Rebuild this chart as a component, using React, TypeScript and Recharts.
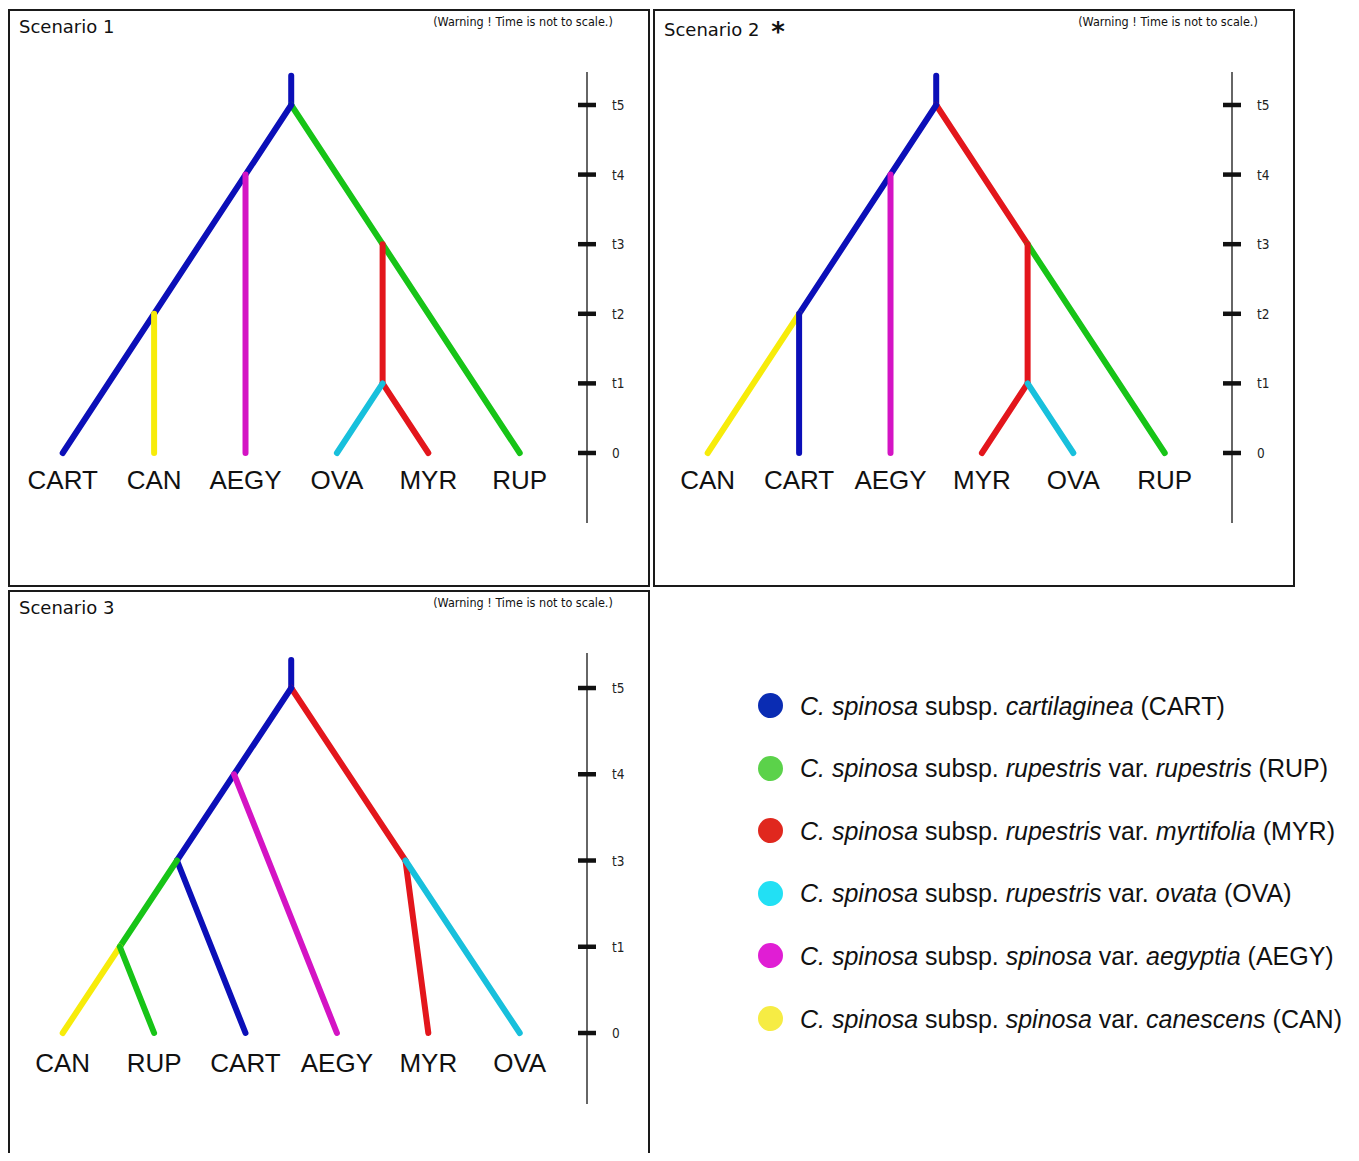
import React from 'react';
import { ComposedChart, XAxis, YAxis, ReferenceLine, Scatter } from 'recharts';

// ---------- data ----------
const scenario1Tips = ['CART', 'CAN', 'AEGY', 'OVA', 'MYR', 'RUP'];
const scenario2Tips = ['CAN', 'CART', 'AEGY', 'MYR', 'OVA', 'RUP'];
const scenario3Tips = ['CAN', 'RUP', 'CART', 'AEGY', 'MYR', 'OVA'];

const timeTicks12 = [0, 1, 2, 3, 4, 5];
const timeLabels12 = ['0', 't1', 't2', 't3', 't4', 't5'];
const timeTicks3 = [0, 1, 2, 3, 4];
const timeLabels3 = ['0', 't1', 't3', 't4', 't5'];

// branches: [x1, y1, x2, y2, lineage]  (x = tip index, y = time level)
const scenario1Branches = [
  [2.5, 5.42, 2.5, 5, 'CART'],
  [2.5, 5, 5, 0, 'RUP'],
  [2.5, 5, 0, 0, 'CART'],
  [2, 4, 2, 0, 'AEGY'],
  [1, 2, 1, 0, 'CAN'],
  [3.5, 3, 3.5, 1, 'MYR'],
  [3.5, 1, 4, 0, 'MYR'],
  [3.5, 1, 3, 0, 'OVA'],
];
const scenario2Branches = [
  [2.5, 5.42, 2.5, 5, 'CART'],
  [2.5, 5, 3.5, 3, 'MYR'],
  [2.5, 5, 1, 2, 'CART'],
  [2, 4, 2, 0, 'AEGY'],
  [1, 2, 0, 0, 'CAN'],
  [1, 2, 1, 0, 'CART'],
  [3.5, 3, 5, 0, 'RUP'],
  [3.5, 3, 3.5, 1, 'MYR'],
  [3.5, 1, 3, 0, 'MYR'],
  [3.5, 1, 4, 0, 'OVA'],
];
const scenario3Branches = [
  [2.5, 4.325, 2.5, 4, 'CART'],
  [2.5, 4, 3.75, 2, 'MYR'],
  [2.5, 4, 1.25, 2, 'CART'],
  [1.875, 3, 3, 0, 'AEGY'],
  [1.25, 2, 2, 0, 'CART'],
  [1.25, 2, 0.625, 1, 'RUP'],
  [0.625, 1, 0, 0, 'CAN'],
  [0.625, 1, 1, 0, 'RUP'],
  [3.75, 2, 4, 0, 'MYR'],
  [3.75, 2, 5, 0, 'OVA'],
];

const legendCodes = ['CART', 'RUP', 'MYR', 'OVA', 'AEGY', 'CAN'];
const legendSubsp = ['cartilaginea', 'rupestris', 'rupestris', 'rupestris', 'spinosa', 'spinosa'];
const legendVar = ['', 'rupestris', 'myrtifolia', 'ovata', 'aegyptia', 'canescens'];

// ---------- styles ----------
const treeColors: Record<string, string> = {
  CART: '#0b0fb8',
  RUP: '#17c417',
  MYR: '#e3161c',
  OVA: '#18c0dc',
  AEGY: '#d414c4',
  CAN: '#f7ec0a',
};
const legendColors: Record<string, string> = {
  CART: '#0a2cb3',
  RUP: '#5bd24a',
  MYR: '#e0281e',
  OVA: '#22e0f4',
  AEGY: '#e01ed4',
  CAN: '#f6ec44',
};

const condensed = "'DejaVu Sans Condensed', 'Liberation Sans Narrow', 'DejaVu Sans', sans-serif";

function makeTick(ticks: number[], labels: string[]) {
  return (props: any) => {
    const { x, y, payload } = props;
    const idx = ticks.indexOf(payload.value);
    return (
      <g>
        <line x1={x - 9} x2={x + 9} y1={y} y2={y} stroke="#111" strokeWidth={4.5} />
        <text
          x={x + 25}
          y={y + 5}
          fontSize={13.5}
          fontFamily={condensed}
          style={{ fontStretch: 'condensed' }}
          fill="#222"
          textAnchor="start"
        >
          {idx >= 0 ? labels[idx] : ''}
        </text>
      </g>
    );
  };
}

function TreePanel(props: any) {
  const { tips, branches, ticks, labels, yDomain, labelOffset, left, top } = props;
  const tipData = tips.map((name: string, i: number) => ({ x: i, y: 0, name }));
  return (
    <div style={{ position: 'absolute', left, top }}>
      <ComposedChart width={639} height={471} margin={{ top: 10, right: 0, bottom: 10, left: 9 }}>
        <XAxis type="number" dataKey="x" domain={[-0.5, 5.736]} allowDataOverflow hide />
        <YAxis
          type="number"
          dataKey="y"
          orientation="right"
          domain={yDomain}
          ticks={ticks}
          interval={0}
          allowDataOverflow
          width={60}
          axisLine={{ stroke: '#333', strokeWidth: 1.5 }}
          tickLine={false}
          tickSize={0}
          tickMargin={0}
          tick={makeTick(ticks, labels)}
        />
        {branches.map((b: any[], i: number) => (
          <ReferenceLine
            key={i}
            segment={[
              { x: b[0], y: b[1] },
              { x: b[2], y: b[3] },
            ]}
            stroke={treeColors[b[4]]}
            strokeWidth={6}
            strokeLinecap="round"
            ifOverflow="visible"
          />
        ))}
        <Scatter
          data={tipData}
          dataKey="y"
          isAnimationActive={false}
          shape={(p: any) => (
            <text
              x={p.cx}
              y={p.cy + labelOffset}
              textAnchor="middle"
              fontSize={26}
              fontFamily="'Liberation Sans', Arial, sans-serif"
              fill="#111"
            >
              {p.payload.name}
            </text>
          )}
        />
      </ComposedChart>
    </div>
  );
}

const box = (left: number, top: number, width: number, height: number, noBottom = false): React.CSSProperties => ({
  position: 'absolute',
  left,
  top,
  width,
  height,
  boxSizing: 'border-box',
  border: '2.5px solid #1a1a1a',
  borderBottom: noBottom ? 'none' : '2.5px solid #1a1a1a',
});

const titleStyle = (left: number, top: number): React.CSSProperties => ({
  position: 'absolute',
  left,
  top,
  fontFamily: "'DejaVu Sans', sans-serif",
  fontSize: 18,
  lineHeight: '20px',
  color: '#111',
  whiteSpace: 'nowrap',
});

const warnStyle = (center: number, top: number): React.CSSProperties => ({
  position: 'absolute',
  left: center - 110,
  width: 220,
  top,
  textAlign: 'center',
  fontFamily: condensed,
  fontStretch: 'condensed',
  fontSize: 12.5,
  lineHeight: '14px',
  color: '#111',
  whiteSpace: 'nowrap',
});

export default function App() {
  return (
    <div
      style={{
        position: 'relative',
        width: 1343,
        height: 1145,
        overflow: 'hidden',
        background: '#fff',
      }}
    >
      <div style={box(0, 1, 642, 578)} />
      <div style={box(645, 1, 642, 578)} />
      <div style={box(0, 582, 642, 600, true)} />

      <div style={titleStyle(11, 9)}>Scenario 1</div>
      <div style={titleStyle(656, 9)}>
        Scenario 2{' '}
        <span style={{ fontSize: 26, fontWeight: 'bold', marginLeft: 6, position: 'relative', top: 5 }}>*</span>
      </div>
      <div style={titleStyle(11, 590)}>Scenario 3</div>

      <div style={warnStyle(515, 7)}>(Warning ! Time is not to scale.)</div>
      <div style={warnStyle(1160, 7)}>(Warning ! Time is not to scale.)</div>
      <div style={warnStyle(515, 588)}>(Warning ! Time is not to scale.)</div>

      <TreePanel
        tips={scenario1Tips}
        branches={scenario1Branches}
        ticks={timeTicks12}
        labels={timeLabels12}
        yDomain={[-1.006, 5.474]}
        labelOffset={36}
        left={0}
        top={54}
      />
      <TreePanel
        tips={scenario2Tips}
        branches={scenario2Branches}
        ticks={timeTicks12}
        labels={timeLabels12}
        yDomain={[-1.006, 5.474]}
        labelOffset={36}
        left={645}
        top={54}
      />
      <TreePanel
        tips={scenario3Tips}
        branches={scenario3Branches}
        ticks={timeTicks3}
        labels={timeLabels3}
        yDomain={[-0.823, 4.406]}
        labelOffset={39}
        left={0}
        top={635}
      />

      {legendCodes.map((code, i) => (
        <div
          key={code}
          style={{
            position: 'absolute',
            left: 750,
            top: 683.5 + i * 62.6,
            height: 28,
            display: 'flex',
            alignItems: 'center',
            fontFamily: "'Liberation Sans', Arial, sans-serif",
            fontSize: 25,
            lineHeight: '28px',
            color: '#111',
            whiteSpace: 'nowrap',
          }}
        >
          <span
            style={{
              display: 'inline-block',
              width: 25,
              height: 25,
              borderRadius: '50%',
              background: legendColors[code],
              marginRight: 17,
            }}
          />
          <span>
            <i>C. spinosa</i> subsp. <i>{legendSubsp[i]}</i>
            {legendVar[i] ? (
              <>
                {' '}var. <i>{legendVar[i]}</i>
              </>
            ) : null}{' '}
            ({code})
          </span>
        </div>
      ))}
    </div>
  );
}
